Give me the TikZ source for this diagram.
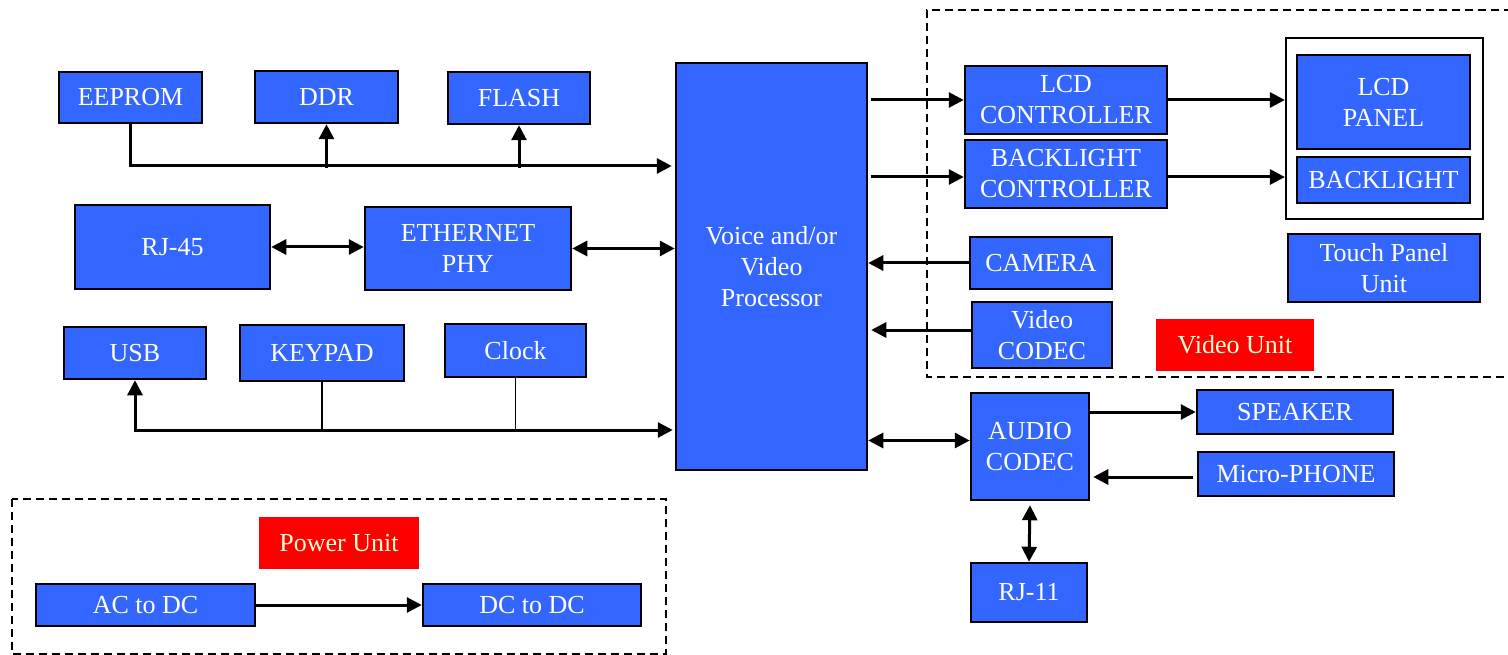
\documentclass[tikz,border=0pt]{standalone}
\usepackage{fontspec}
\setmainfont{Liberation Serif}
\usetikzlibrary{arrows.meta}
\definecolor{boxblue}{RGB}{51,102,255}
\definecolor{unitred}{RGB}{255,0,0}
\definecolor{cream}{RGB}{255,255,214}
\tikzset{
  blk/.style={draw=black, line width=2.5pt, fill=boxblue, text=white, align=center, inner sep=0pt,
    font=\fontsize{26}{31}\selectfont},
  unitlabel/.style={fill=unitred, text=cream, inner sep=0pt, font=\fontsize{26}{31}\selectfont},
  arr/.style={line width=3pt, -{Triangle[length=15pt,width=15pt]}},
  darr/.style={line width=3pt, {Triangle[length=15pt,width=15pt]}-{Triangle[length=15pt,width=15pt]}},
  thinline/.style={line width=1.8pt},
  dashedframe/.style={line width=1.8pt, dash pattern=on 8pt off 5pt},
}
\begin{document}
\begin{tikzpicture}[x=1pt,y=-1pt]
\useasboundingbox (0,0) rectangle (1508,655);
% frames
\draw[dashedframe] (1512,10) -- (927,10) -- (927,377) -- (1512,377);
\draw[dashedframe] (12,499) rectangle (666,654);
% left column
\node[blk, minimum width=143pt, minimum height=51pt] (eeprom) at (130.5,97.5) {EEPROM};
\node[blk, minimum width=143pt, minimum height=52pt] (ddr) at (326.5,97) {DDR};
\node[blk, minimum width=142pt, minimum height=52pt] (flash) at (519,98) {FLASH};
\node[blk, minimum width=195pt, minimum height=84pt] (rj45) at (172.5,247) {RJ-45};
\node[blk, minimum width=206pt, minimum height=83pt] (eth) at (468,248.5) {ETHERNET\\PHY};
\node[blk, minimum width=142pt, minimum height=52pt] (usb) at (135,353) {USB};
\node[blk, minimum width=164pt, minimum height=56pt] (keypad) at (322,353) {KEYPAD};
\node[blk, minimum width=141pt, minimum height=53pt] (clock) at (515.5,350.5) {Clock};
% processor
\node[blk, minimum width=191pt, minimum height=407pt] (voice) at (771.5,266.5) {Voice and/or\\Video\\Processor};
% video unit
\node[blk, minimum width=202pt, minimum height=68pt] (lcdc) at (1066,100) {LCD\\CONTROLLER};
\node[blk, minimum width=202pt, minimum height=68pt] (blc) at (1066,174) {BACKLIGHT\\CONTROLLER};
\node[draw=black, line width=2.2pt, fill=white, minimum width=197pt, minimum height=181pt, inner sep=0pt] (outer) at (1384.5,128.5) {};
\node[blk, minimum width=173pt, minimum height=94pt] (lcdp) at (1383.5,102) {LCD\\PANEL};
\node[blk, minimum width=173pt, minimum height=46pt] (bl) at (1383.5,180) {BACKLIGHT};
\node[blk, minimum width=142pt, minimum height=52pt] (cam) at (1041,263) {CAMERA};
\node[blk, minimum width=192pt, minimum height=68pt] (touch) at (1384,268) {Touch Panel\\Unit};
\node[blk, minimum width=140pt, minimum height=66pt] (vcodec) at (1042,335) {Video\\CODEC};
\node[unitlabel, minimum width=158pt, minimum height=52pt] (vunit) at (1235,345) {Video Unit};
% audio
\node[blk, minimum width=118pt, minimum height=107pt] (audio) at (1030,446.5) {AUDIO\\CODEC};
\node[blk, minimum width=196pt, minimum height=44pt] (spk) at (1295,412) {SPEAKER};
\node[blk, minimum width=196pt, minimum height=44pt] (mic) at (1296,474) {Micro-PHONE};
\node[blk, minimum width=116pt, minimum height=59pt] (rj11) at (1029,592.5) {RJ-11};
% power
\node[unitlabel, minimum width=160pt, minimum height=52pt] (punit) at (339,543) {Power Unit};
\node[blk, minimum width=219pt, minimum height=42pt] (acdc) at (145.5,605) {AC to DC};
\node[blk, minimum width=218pt, minimum height=42pt] (dcdc) at (532,605) {DC to DC};
% bus coordinates
\coordinate (b1) at (0,166);
\coordinate (b2) at (0,430);
% top bus
\draw[arr] (eeprom.south) |- ([xshift=-3pt]b1 -| voice.west);
\draw[arr] ([yshift=-2pt]ddr.south |- b1) -- (ddr.south);
\draw[arr] ([yshift=-2pt]flash.south |- b1) -- (flash.south);
% ethernet
\draw[darr] (rj45.east) -- (rj45.east -| eth.west);
\draw[darr] (eth.east) -- (eth.east -| voice.west);
% bottom bus
\draw[darr] (usb.south) |- ([xshift=-2pt]b2 -| voice.west);
\draw[thinline] (keypad.south) -- (keypad.south |- b2);
\draw[thinline] (clock.south) -- (clock.south |- b2);
% video
\draw[arr] ([xshift=3pt]voice.east |- lcdc.west) -- (lcdc.west);
\draw[arr] ([xshift=3pt,yshift=-3pt]voice.east |- blc.west) -- ([yshift=-3pt]blc.west);
\draw[arr] (lcdc.east) -- (lcdc.east -| outer.west);
\draw[arr] ([yshift=-3pt]blc.east) -- ([yshift=-3pt]blc.east -| outer.west);
\draw[arr] (cam.west) -- (cam.west -| voice.east);
\draw[arr] ([yshift=5pt]vcodec.west) -- ([xshift=3pt,yshift=5pt]vcodec.west -| voice.east);
% audio
\draw[darr] ([yshift=6pt]voice.east |- audio.west) -- ([yshift=6pt]audio.west);
\draw[arr] (audio.east |- spk.west) -- (spk.west);
\draw[arr] ([xshift=-4pt,yshift=-3pt]mic.west) -- ([xshift=3pt,yshift=-3pt]mic.west -| audio.east);
\draw[darr] ([yshift=-4pt]audio.south) -- (rj11.north);
% power
\draw[arr] (acdc.east) -- (dcdc.west);
\end{tikzpicture}
\end{document}
